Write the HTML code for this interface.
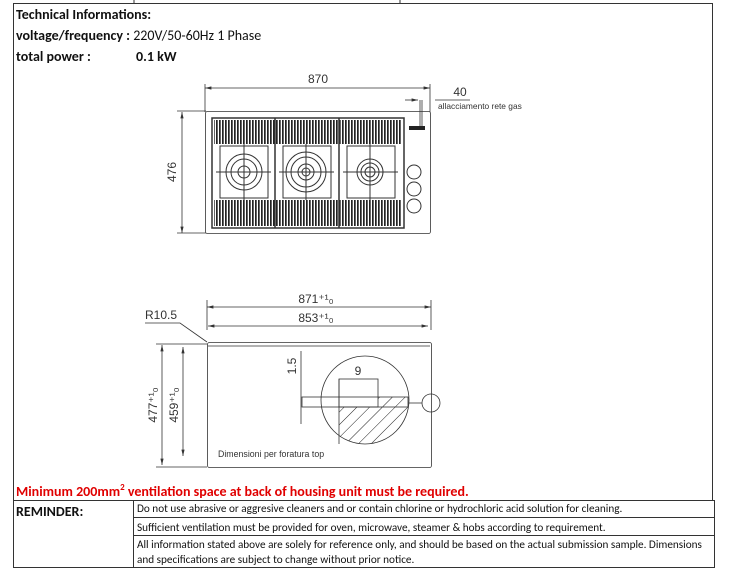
<!DOCTYPE html>
<html><head><meta charset="utf-8"><style>
body{margin:0;background:#fff;width:730px;height:572px;overflow:hidden;font-family:"Liberation Sans",sans-serif}
</style></head><body>
<svg width="730" height="572" xmlns="http://www.w3.org/2000/svg" style="position:absolute;left:0;top:0">
<defs>
<pattern id="h" width="9" height="9" patternUnits="userSpaceOnUse" patternTransform="rotate(45)"><line x1="0" y1="0" x2="0" y2="9" stroke="#222" stroke-width="1"/></pattern>
<clipPath id="cc"><circle cx="365" cy="400" r="44"/></clipPath>
<marker id="a" markerWidth="8" markerHeight="6" refX="8" refY="3" orient="auto-start-reverse"><path d="M0,1 L8,3 L0,5" fill="#333"/></marker>
<pattern id="g" width="3" height="10" patternUnits="userSpaceOnUse"><rect width="1.7" height="10" fill="#222"/></pattern>
</defs>
<g stroke="#333" stroke-width="1" fill="none">
<line x1="13" y1="3.5" x2="712" y2="3.5"/>
<line x1="134" y1="0" x2="134" y2="3"/><line x1="400" y1="0" x2="400" y2="3"/>
<line x1="13.5" y1="3" x2="13.5" y2="500"/>
<line x1="712.5" y1="3" x2="712.5" y2="500"/>
<line x1="13" y1="500.5" x2="715" y2="500.5"/>
<line x1="13.5" y1="500" x2="13.5" y2="568"/>
<line x1="133.5" y1="500" x2="133.5" y2="568"/>
<line x1="133" y1="517.5" x2="715" y2="517.5"/>
<line x1="133" y1="535.5" x2="715" y2="535.5"/>
<line x1="13" y1="567.5" x2="715" y2="567.5"/>
<line x1="714.5" y1="500" x2="714.5" y2="568"/>
</g>
<g stroke="#333" stroke-width="0.8" fill="none">
<line x1="205" y1="88" x2="430" y2="88" marker-start="url(#a)" marker-end="url(#a)"/>
<line x1="205" y1="84" x2="205" y2="112"/><line x1="430" y1="84" x2="430" y2="112"/>
<line x1="182" y1="112" x2="182" y2="233" marker-start="url(#a)" marker-end="url(#a)"/>
<line x1="177" y1="111" x2="206" y2="111"/><line x1="177" y1="233" x2="206" y2="233"/>
<rect x="205.5" y="111.5" width="225" height="122" rx="2"/>
<rect x="212" y="118" width="192" height="110" stroke-width="1.5"/>
<line x1="405" y1="100" x2="418" y2="100" marker-end="url(#a)"/>
<line x1="435" y1="100" x2="470" y2="100"/>
<line x1="420" y1="100" x2="420" y2="126"/><line x1="422" y1="100" x2="422" y2="126"/>
</g>
<rect x="214" y="120" width="188" height="24" fill="url(#g)"/>
<rect x="214" y="200" width="188" height="26" fill="url(#g)"/>
<rect x="409" y="126" width="16" height="4" fill="#222"/>
<g stroke="#333" stroke-width="1" fill="#fff">
<rect x="220" y="146" width="48" height="52"/><rect x="283" y="146" width="48" height="52"/><rect x="347" y="146" width="48" height="52"/>
<line x1="275" y1="118" x2="275" y2="228" stroke-width="1.5"/><line x1="339" y1="118" x2="339" y2="228" stroke-width="1.5"/>
<circle cx="244" cy="172" r="18" fill="none"/><circle cx="244" cy="172" r="13" fill="none"/><circle cx="244" cy="172" r="6"/>
<circle cx="306" cy="172" r="20" fill="none"/><circle cx="306" cy="172" r="15" fill="none"/><circle cx="306" cy="172" r="8"/><circle cx="306" cy="172" r="4"/>
<circle cx="370" cy="172" r="13" fill="none"/><circle cx="370" cy="172" r="9" fill="none"/><circle cx="370" cy="172" r="5"/>
<line x1="216" y1="172" x2="271" y2="172"/><line x1="244" y1="144" x2="244" y2="200"/>
<line x1="279" y1="172" x2="334" y2="172"/><line x1="306" y1="144" x2="306" y2="200"/>
<line x1="343" y1="172" x2="398" y2="172"/><line x1="370" y1="144" x2="370" y2="200"/>
<circle cx="414" cy="172" r="7"/><circle cx="414" cy="189" r="7"/><circle cx="414" cy="206" r="7"/>
</g>
<g stroke="#333" stroke-width="0.8" fill="none">
<line x1="207" y1="307" x2="431" y2="307" marker-start="url(#a)" marker-end="url(#a)"/>
<line x1="208" y1="326" x2="428" y2="326" marker-start="url(#a)" marker-end="url(#a)"/>
<line x1="207" y1="300" x2="207" y2="330"/><line x1="431" y1="300" x2="431" y2="330"/>
<rect x="207.5" y="342.5" width="224" height="125" rx="2"/>
<line x1="208" y1="346" x2="430" y2="346"/>
<polyline points="145,323 180,323 207,342"/>
<line x1="162" y1="345" x2="162" y2="465" marker-start="url(#a)" marker-end="url(#a)"/>
<line x1="183" y1="347" x2="183" y2="456" marker-start="url(#a)" marker-end="url(#a)"/>
<line x1="156" y1="344" x2="207" y2="344"/><line x1="156" y1="467" x2="207" y2="467"/>
<circle cx="365" cy="400" r="44"/>
<g clip-path="url(#cc)"><rect x="339" y="407" width="80" height="45" fill="url(#h)" stroke="none"/><rect x="378" y="397" width="40" height="10" fill="url(#h)" stroke="none"/></g>
<line x1="339" y1="379" x2="339" y2="444"/>
<rect x="339" y="379" width="39" height="28"/>
<rect x="302" y="397" width="106" height="10"/>
<line x1="301" y1="351" x2="301" y2="424"/>
<line x1="409" y1="403" x2="422" y2="403"/>
<circle cx="431" cy="403" r="9"/>
</g>
<g font-family="Liberation Sans,sans-serif" fill="#333">
<text x="318" y="83" font-size="12" text-anchor="middle">870</text>
<text x="460" y="96" font-size="12" text-anchor="middle">40</text>
<text x="438" y="109" font-size="8.4">allacciamento rete gas</text>
<text transform="translate(176,172) rotate(-90)" font-size="12" text-anchor="middle">476</text>
<text x="316" y="303" font-size="12" text-anchor="middle">871⁺¹₀</text>
<text x="316" y="322" font-size="12" text-anchor="middle">853⁺¹₀</text>
<text x="145" y="319" font-size="12">R10.5</text>
<text transform="translate(157,405) rotate(-90)" font-size="12" text-anchor="middle">477⁺¹₀</text>
<text transform="translate(178,405) rotate(-90)" font-size="12" text-anchor="middle">459⁺¹₀</text>
<text transform="translate(296,366) rotate(-90)" font-size="12" text-anchor="middle">1.5</text>
<text x="358" y="375" font-size="12" text-anchor="middle">9</text>
<text x="218" y="457" font-size="8.8">Dimensioni per foratura top</text>
</g>
<g font-family="Calibri,Carlito,'Liberation Sans',sans-serif">
<text x="16" y="19" font-size="14" font-weight="bold" fill="#111">Technical Informations:</text>
<text x="16" y="40" font-size="14" fill="#111"><tspan font-weight="bold">voltage/frequency :</tspan> 220V/50-60Hz 1 Phase</text>
<text x="16" y="61" font-size="14" font-weight="bold" fill="#111">total power :</text>
<text x="136" y="61" font-size="14" font-weight="bold" fill="#111">0.1 kW</text>
<text x="16" y="496" font-size="14" font-weight="bold" fill="#e00000">Minimum 200mm<tspan font-size="9" dy="-6">2</tspan><tspan dy="6"> ventilation space at back of housing unit must be required.</tspan></text>
<text x="16" y="516" font-size="14" font-weight="bold" fill="#111">REMINDER:</text>
<text x="137" y="512" font-size="11.2" fill="#111">Do not use abrasive or aggresive cleaners and or contain chlorine or hydrochloric acid solution for cleaning.</text>
<text x="137" y="531" font-size="11.2" fill="#111">Sufficient ventilation must be provided for oven, microwave, steamer &amp; hobs according to requirement.</text>
<text x="137" y="548" font-size="11.2" fill="#111">All information stated above are solely for reference only, and should be based on the actual submission sample. Dimensions</text>
<text x="137" y="563" font-size="11.2" fill="#111">and specifications are subject to change without prior notice.</text>
</g>
</svg>
</body></html>
